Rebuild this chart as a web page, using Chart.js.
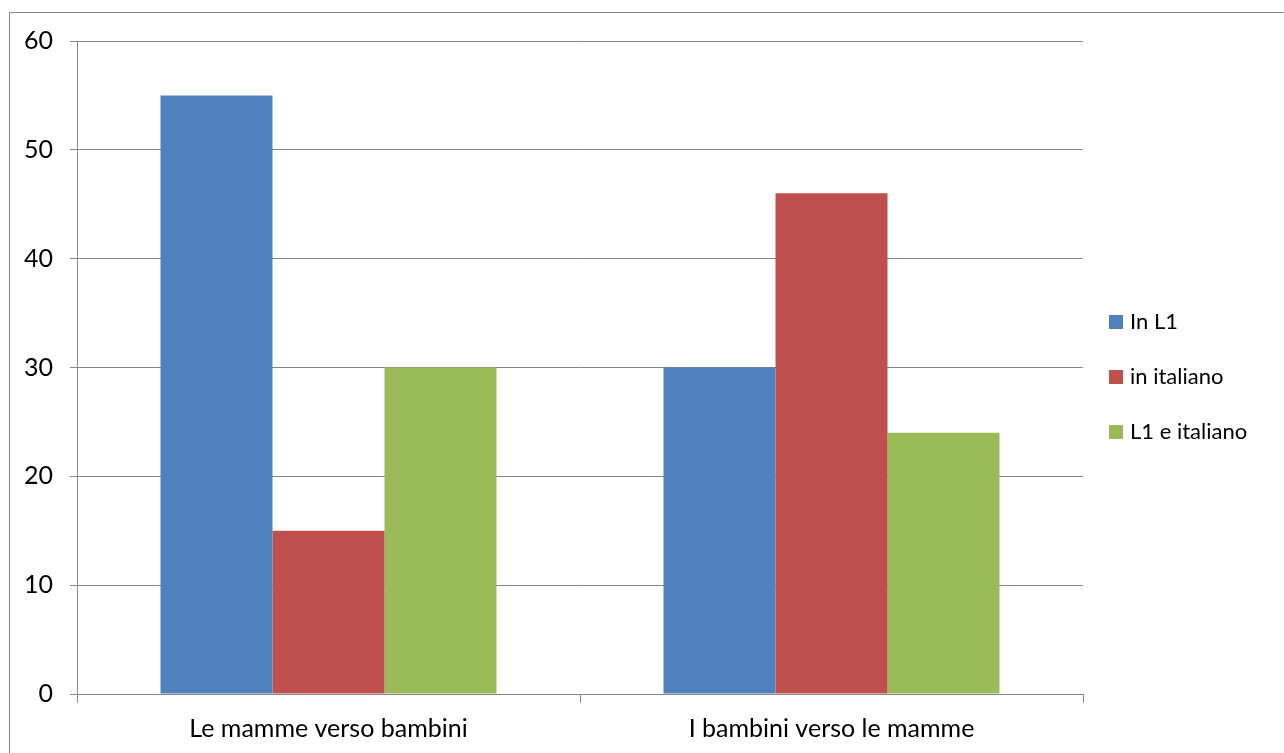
<!DOCTYPE html>
<html>
<head>
<meta charset="utf-8">
<title>Lingua usata in famiglia</title>
<script src="https://cdn.jsdelivr.net/npm/chart.js@4.4.1/dist/chart.umd.min.js"></script>
<style>
  html, body { margin: 0; padding: 0; background: #ffffff; }
  #wrap { position: relative; width: 1284px; height: 753px; }
  canvas { display: block; }
</style>
</head>
<body>
<div id="wrap"><canvas id="chart" width="1284" height="753"></canvas></div>
<script>
// Categories and series
const categories = ['Le mamme verso bambini', 'I bambini verso le mamme'];
const seriesNames = ['In L1', 'in italiano', 'L1 e italiano'];
const inL1 = [55, 30];
const inItaliano = [15, 46];
const l1eItaliano = [30, 24];
const yTicks = [0, 10, 20, 30, 40, 50, 60];

const colors = ['#4F81BD', '#C0504D', '#9BBB59'];
const gridColor = '#868686';
const fontFamily = 'Lato, "Open Sans", "Liberation Sans", sans-serif';

// Outer frame around the whole chart object
const framePlugin = {
  id: 'frame',
  beforeDraw(chart) {
    const ctx = chart.ctx;
    ctx.save();
    ctx.fillStyle = '#ffffff';
    ctx.fillRect(0, 0, chart.width, chart.height);
    ctx.strokeStyle = gridColor;
    ctx.lineWidth = 1;
    ctx.strokeRect(9.5, 12.5, chart.width + 20, chart.height + 20);
    ctx.restore();
  }
};

// Legend on the right, vertically stacked
const sideLegend = {
  id: 'sideLegend',
  afterDraw(chart) {
    const ctx = chart.ctx;
    const area = chart.chartArea;
    const items = chart.data.datasets;
    const spacing = 55;
    const box = 14;
    const x0 = area.right + 26;
    const yMid = (area.top + area.bottom) / 2 + 9;
    const yStart = yMid - spacing * (items.length - 1) / 2;
    ctx.save();
    ctx.font = '22px ' + fontFamily;
    ctx.textBaseline = 'middle';
    ctx.textAlign = 'left';
    items.forEach((ds, i) => {
      const y = yStart + i * spacing;
      ctx.fillStyle = ds.backgroundColor;
      ctx.fillRect(x0, Math.round(y - box / 2), box, box);
      ctx.fillStyle = '#000000';
      ctx.fillText(ds.label, x0 + box + 7, y);
    });
    ctx.restore();
  }
};

new Chart(document.getElementById('chart'), {
  type: 'bar',
  data: {
    labels: categories,
    datasets: [
      { label: seriesNames[0], data: inL1, backgroundColor: colors[0] },
      { label: seriesNames[1], data: inItaliano, backgroundColor: colors[1] },
      { label: seriesNames[2], data: l1eItaliano, backgroundColor: colors[2] }
    ]
  },
  options: {
    responsive: false,
    animation: false,
    devicePixelRatio: 1,
    layout: { padding: { left: 0, right: 201, top: 41, bottom: 0 } },
    datasets: {
      bar: { categoryPercentage: 0.668, barPercentage: 1.0, borderWidth: 0 }
    },
    plugins: {
      legend: { display: false },
      tooltip: { enabled: false }
    },
    scales: {
      x: {
        offset: true,
        grid: {
          offset: true,
          drawOnChartArea: false,
          drawTicks: true,
          tickLength: 9,
          color: gridColor,
          lineWidth: 1
        },
        border: { display: true, color: gridColor, width: 1 },
        ticks: {
          color: '#000000',
          padding: 11,
          font: { family: fontFamily, size: 25 },
          maxRotation: 0,
          autoSkip: false
        },
        afterFit(scale) { scale.height = 59; }
      },
      y: {
        min: 0,
        max: 60,
        afterBuildTicks(scale) { scale.ticks = yTicks.map(v => ({ value: v })); },
        grid: {
          drawTicks: true,
          tickLength: 7,
          color: gridColor,
          lineWidth: 1
        },
        border: { display: true, color: gridColor, width: 1 },
        ticks: {
          color: '#000000',
          padding: 17,
          font: { family: fontFamily, size: 25 }
        },
        afterFit(scale) { scale.width = 77; }
      }
    }
  },
  plugins: [framePlugin, sideLegend]
});
</script>
</body>
</html>
